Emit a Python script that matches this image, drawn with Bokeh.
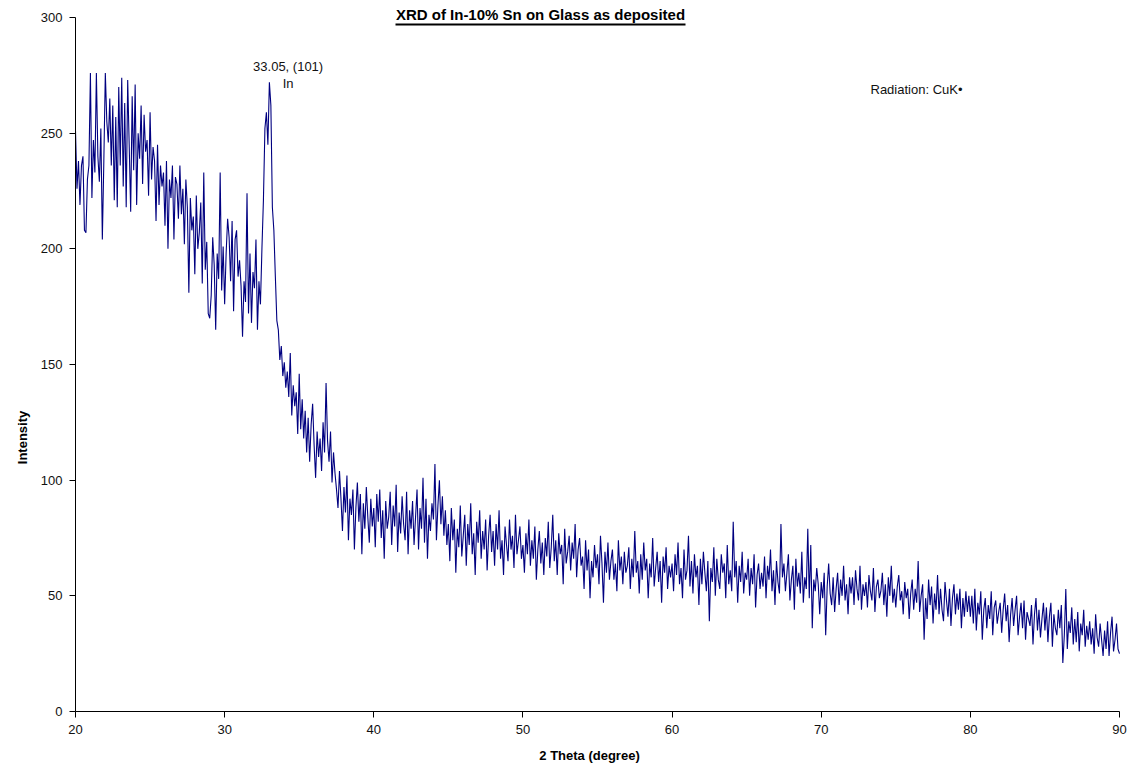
import numpy as np
from bokeh.plotting import figure
from bokeh.models import Range1d, Label, BoxAnnotation, FixedTicker
from bokeh.embed import file_html
from bokeh.resources import INLINE

# Scan: 2-theta from 20.0 to 90.0 deg in 0.1 deg steps, counts per decade
intensity_20s = [
    251, 226, 238, 219, 236, 240, 208, 207, 230, 236,
    276, 222, 247, 233, 276, 240, 229, 252, 204, 238,
    276, 255, 246, 265, 236, 262, 221, 257, 218, 270,
    236, 274, 227, 263, 218, 273, 245, 216, 266, 234,
    271, 219, 250, 239, 262, 228, 258, 242, 247, 223,
    259, 230, 244, 238, 212, 245, 219, 236, 227, 233,
    210, 238, 200, 230, 222, 236, 204, 231, 228, 213,
    236, 215, 226, 202, 230, 218, 181, 222, 208, 214,
    189, 223, 200, 207, 220, 185, 233, 191, 203, 172,
    170, 180, 205, 193, 165, 198, 187, 233, 182, 201,
]
intensity_30s = [
    176, 198, 213, 205, 186, 212, 173, 204, 208, 188,
    195, 184, 162, 186, 177, 224, 172, 198, 168, 190,
    183, 204, 165, 186, 176, 200, 221, 252, 259, 245,
    272, 262, 218, 208, 188, 169, 165, 152, 158, 145,
    151, 140, 147, 136, 155, 128, 141, 132, 138, 120,
    146, 122, 135, 118, 130, 112, 127, 108, 124, 133,
    115, 101, 121, 110, 118, 104, 125, 112, 142, 117,
    108, 121, 99, 112, 103, 96, 88, 104, 92, 78,
    97, 86, 102, 74, 92, 85, 96, 70, 88, 99,
    82, 94, 68, 90, 79, 97, 84, 73, 92, 80,
]
intensity_40s = [
    88, 71, 94, 82, 96, 75, 87, 66, 91, 79,
    84, 95, 72, 89, 80, 98, 69, 86, 77, 93,
    81, 74, 95, 68, 87, 79, 91, 72, 84, 96,
    70, 88, 79, 101, 73, 92, 66, 85, 78, 90,
    83, 107, 74, 89, 100, 81, 93, 76, 87, 72,
    81, 65, 88, 74, 83, 60, 79, 71, 89, 67,
    76, 85, 63, 81, 72, 90, 68, 77, 59, 82,
    73, 87, 66, 78, 70, 83, 61, 76, 85, 69,
    78, 63, 81, 70, 87, 66, 74, 59, 80, 72,
    65, 83, 70, 76, 62, 85, 68, 74, 80, 66,
]
intensity_50s = [
    72, 60, 77, 68, 83, 63, 74, 66, 80, 57,
    70, 78, 64, 73, 59, 75, 67, 82, 62, 71,
    85, 65, 74, 59, 77, 68, 72, 55, 79, 64,
    69, 76, 61, 73, 66, 81, 58, 70, 75, 63,
    67, 53, 74, 61, 70, 49, 65, 58, 72, 62,
    68, 55, 76, 64, 47, 69, 60, 73, 57, 65,
    70, 57, 64, 52, 74, 61, 67, 55, 69, 60,
    63, 71, 53, 66, 58, 78, 60, 65, 51, 68,
    57, 73, 61, 66, 49, 64, 58, 75, 54, 62,
    69, 56, 65, 47, 67, 60, 71, 53, 63, 58,
]
intensity_60s = [
    64, 52, 68, 59, 73, 55, 62, 49, 70, 57,
    61, 76, 54, 65, 51, 68, 58, 63, 46, 66,
    55, 69, 60, 52, 65, 39, 62, 56, 71, 50,
    66, 57, 53, 68, 60, 64, 49, 72, 55, 61,
    52, 82, 58, 65, 47, 63, 56, 69, 51, 60,
    57, 66, 50, 62, 55, 68, 45, 59, 64, 53,
    60, 54, 67, 49, 63, 57, 70, 52, 61, 46,
    65, 56, 51, 81, 58, 64, 52, 60, 68, 48,
    57, 63, 44, 66, 54, 60, 51, 69, 47, 58,
    53, 79, 49, 72, 36, 57, 52, 62, 55, 42,
]
intensity_70s = [
    56, 49, 60, 33, 54, 64, 51, 46, 58, 43,
    53, 60, 46, 57, 50, 63, 48, 55, 42, 58,
    51, 58, 46, 61, 53, 48, 63, 44, 55, 50,
    56, 45, 59, 52, 48, 62, 43, 54, 57, 49,
    52, 60, 46, 55, 41, 58, 50, 63, 47, 53,
    45, 54, 59, 48, 52, 42, 56, 49, 53, 40,
    51, 57, 44, 53, 47, 65, 43, 50, 55, 31,
    49, 40, 57, 46, 54, 38, 51, 44, 59, 42,
    53, 44, 39, 56, 48, 41, 53, 37, 49, 55,
    42, 51, 44, 53, 36, 49, 41, 52, 43, 50,
]
intensity_80s = [
    41, 50, 38, 53, 35, 47, 42, 52, 31, 44,
    49, 36, 46, 40, 52, 33, 45, 48, 38, 43,
    47, 34, 44, 51, 39, 46, 30, 42, 49, 37,
    44, 50, 33, 41, 47, 36, 48, 31, 43, 40,
    37, 46, 29, 42, 49, 35, 44, 32, 40, 47,
    35, 45, 30, 41, 47, 28, 42, 36, 33, 44,
    36, 46, 21, 33, 53, 27, 39, 34, 45, 29,
    40, 30, 43, 26, 38, 33, 44, 28, 37, 31,
    39, 29, 36, 25, 42, 32, 28, 38, 31, 24,
    35, 27, 39, 24, 34, 41, 26, 31, 38, 27,
    25,
]

x_ticks = [20, 30, 40, 50, 60, 70, 80, 90]
y_ticks = [0, 50, 100, 150, 200, 250, 300]

peak_theta = 33.05
peak_label = "33.05, (101)"
peak_phase = "In"
title_text = "XRD of In-10% Sn on Glass as deposited"
radiation_text = "Radiation: CuK\u2022"
x_title = "2 Theta (degree)"
y_title = "Intensity"

intensity = np.array(intensity_20s + intensity_30s + intensity_40s + intensity_50s
                     + intensity_60s + intensity_70s + intensity_80s, dtype=float)
two_theta = np.round(20.0 + 0.1 * np.arange(len(intensity)), 1)

# Page geometry: the plotting frame covers the whole canvas and both axes are
# pinned at fixed data positions, so every caption can be placed freely.
W, H = 1129, 767
AX_L, AX_R, AX_T, AX_B = 75, 1119, 17, 711     # axis box in canvas pixels
X0, X1, Y0, Y1 = 20, 90, 0, 300
x_per_px = (X1 - X0) / (AX_R - AX_L)
y_per_px = (Y1 - Y0) / (AX_B - AX_T)
FONT = "Liberation Sans"


def sx(px):
    return X0 + (px - AX_L) * x_per_px


def sy(py):
    return Y0 + (AX_B - py) * y_per_px


p = figure(width=W, height=H, output_backend="svg", toolbar_location=None,
           x_range=Range1d(sx(0), sx(W)), y_range=Range1d(sy(H), sy(0)),
           min_border=0)
p.outline_line_color = None
p.background_fill_color = "white"
p.border_fill_color = "white"
p.xgrid.visible = False
p.ygrid.visible = False

p.line(two_theta, intensity, line_color="#000080", line_width=1.1)

for ax in (p.xaxis[0], p.yaxis[0]):
    ax.axis_line_color = "black"
    ax.axis_line_width = 1
    ax.major_tick_line_color = "black"
    ax.major_tick_in = 0
    ax.major_tick_out = 6
    ax.minor_tick_line_color = None
    ax.major_label_text_font = FONT
    ax.major_label_text_font_size = "13px"
    ax.major_label_text_color = "#111111"
    ax.major_label_standoff = 7

p.xaxis.ticker = FixedTicker(ticks=x_ticks)
p.yaxis.ticker = FixedTicker(ticks=y_ticks)
p.xaxis.fixed_location = Y0
p.yaxis.fixed_location = X0
p.xaxis.bounds = (X0, X1)
p.yaxis.bounds = (Y0, Y1)


def caption(text, px, py, size="13px", style="normal", align="center", angle=0.0,
            color="#111111"):
    p.add_layout(Label(x=sx(px), y=sy(py), text=text, text_align=align,
                       text_baseline="middle", angle=angle, text_font=FONT,
                       text_font_size=size, text_font_style=style,
                       text_color=color))


# Axis titles
caption(x_title, 589, 755, style="bold", color="black")
caption(y_title, 22, 437, style="bold", angle=np.pi / 2, color="black")

# Title and its underline
caption(title_text, 540, 14, size="15px", style="bold", color="black")
p.add_layout(BoxAnnotation(left=sx(395), right=sx(685), top=sy(23), bottom=sy(25),
                           fill_color="black", fill_alpha=1.0, line_alpha=0))

# Peak annotation, just right of the (101) reflection
p.add_layout(Label(x=peak_theta, y=sy(66), x_offset=18, text=peak_label,
                   text_align="center", text_baseline="middle",
                   text_font=FONT, text_font_size="13px", text_color="#111111"))
p.add_layout(Label(x=peak_theta, y=sy(83), x_offset=18, text=peak_phase,
                   text_align="center", text_baseline="middle",
                   text_font=FONT, text_font_size="13px", text_color="#111111"))

caption(radiation_text, 870, 89, align="left")

open("out.html", "w").write(file_html(p, INLINE))
